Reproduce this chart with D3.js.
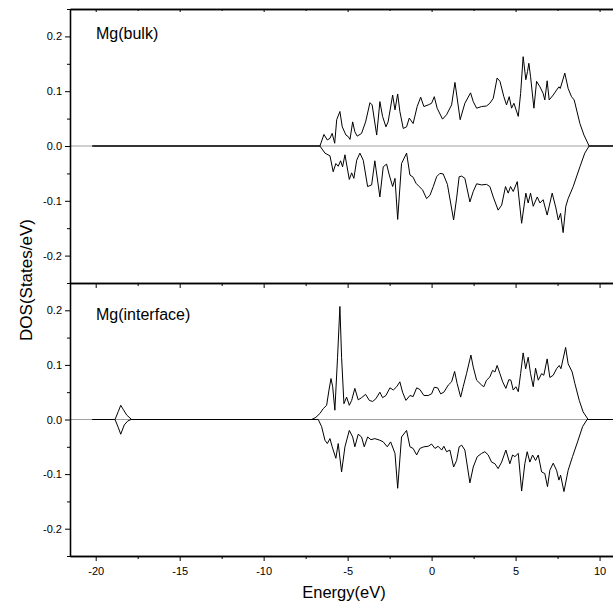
<!DOCTYPE html>
<html>
<head>
<meta charset="utf-8">
<script src="https://cdn.jsdelivr.net/npm/d3@7"></script>
<style>
  body { margin: 0; background: #fff; }
  text { font-family: 'Liberation Sans', Arial, sans-serif; fill: #000; }
</style>
</head>
<body>
<script>
// DOS data, [energy (eV), states/eV]; spin-down drawn as negative
const bulkUp = [[-20.2,0],[-6.65,0],[-6.41,0.021],[-6.21,0.011],[-6.05,0.014],[-5.92,0.023],[-5.77,0.005],[-5.65,0.048],[-5.46,0.063],[-5.32,0.035],[-5.10,0.020],[-4.96,0.017],[-4.86,0.012],[-4.70,0.044],[-4.57,0.026],[-4.43,0.018],[-4.17,0.023],[-3.93,0.044],[-3.67,0.079],[-3.54,0.075],[-3.27,0.020],[-3.08,0.081],[-2.92,0.054],[-2.72,0.035],[-2.59,0.044],[-2.32,0.093],[-2.18,0.066],[-2.02,0.095],[-1.89,0.063],[-1.69,0.032],[-1.49,0.035],[-1.33,0.051],[-1.10,0.041],[-0.86,0.072],[-0.65,0.089],[-0.46,0.072],[-0.20,0.075],[0.0,0.078],[0.16,0.090],[0.33,0.069],[0.65,0.049],[0.89,0.057],[1.19,0.075],[1.39,0.116],[1.70,0.048],[1.98,0.078],[2.32,0.097],[2.48,0.081],[2.68,0.069],[2.98,0.072],[3.27,0.073],[3.47,0.078],[3.67,0.087],[3.90,0.124],[4.07,0.118],[4.30,0.090],[4.46,0.075],[4.62,0.090],[4.76,0.069],[4.90,0.078],[5.16,0.054],[5.30,0.096],[5.45,0.163],[5.61,0.121],[5.71,0.136],[5.79,0.151],[5.89,0.127],[6.09,0.069],[6.25,0.118],[6.45,0.108],[6.64,0.096],[6.74,0.084],[6.88,0.119],[7.00,0.084],[7.24,0.093],[7.44,0.102],[7.58,0.108],[7.66,0.105],[7.93,0.133],[8.13,0.105],[8.33,0.090],[8.49,0.084],[8.83,0.041],[9.07,0.020],[9.38,0],[11,0]];

const bulkDown = [[-20.2,0],[-6.65,0],[-6.35,-0.013],[-6.05,-0.018],[-5.86,-0.047],[-5.70,-0.032],[-5.56,-0.037],[-5.42,-0.027],[-5.30,-0.038],[-5.16,-0.016],[-4.90,-0.061],[-4.76,-0.049],[-4.63,-0.059],[-4.46,-0.026],[-4.27,-0.013],[-4.07,-0.026],[-3.81,-0.074],[-3.57,-0.071],[-3.38,-0.027],[-3.08,-0.093],[-2.88,-0.038],[-2.68,-0.033],[-2.52,-0.053],[-2.32,-0.074],[-2.18,-0.059],[-2.02,-0.134],[-1.79,-0.032],[-1.49,-0.013],[-1.29,-0.053],[-1.10,-0.057],[-0.93,-0.068],[-0.74,-0.074],[-0.54,-0.080],[-0.30,-0.096],[-0.10,-0.090],[0.10,-0.074],[0.30,-0.056],[0.49,-0.050],[0.69,-0.051],[0.94,-0.070],[1.31,-0.135],[1.49,-0.095],[1.64,-0.056],[1.79,-0.055],[1.98,-0.059],[2.28,-0.102],[2.48,-0.083],[2.68,-0.069],[2.98,-0.071],[3.27,-0.070],[3.47,-0.074],[3.67,-0.093],[3.96,-0.117],[4.17,-0.108],[4.40,-0.074],[4.56,-0.086],[4.70,-0.074],[4.86,-0.083],[5.10,-0.065],[5.36,-0.141],[5.61,-0.086],[5.75,-0.104],[5.89,-0.086],[6.05,-0.110],[6.29,-0.093],[6.45,-0.104],[6.64,-0.098],[6.88,-0.126],[7.18,-0.086],[7.40,-0.113],[7.54,-0.135],[7.68,-0.123],[7.83,-0.158],[7.99,-0.110],[8.13,-0.096],[8.43,-0.074],[8.83,-0.038],[9.12,-0.013],[9.38,0],[11,0]];

const ifaceUp = [[-20.2,0],[-18.85,0],[-18.65,0.015],[-18.51,0.026],[-18.35,0.018],[-18.15,0.008],[-17.86,0],[-7.14,0],[-6.89,0.004],[-6.65,0.011],[-6.45,0.020],[-6.25,0.026],[-6.11,0.054],[-5.99,0.075],[-5.89,0.060],[-5.76,0.017],[-5.60,0.114],[-5.46,0.207],[-5.36,0.114],[-5.22,0.029],[-5.06,0.041],[-4.90,0.026],[-4.76,0.035],[-4.57,0.057],[-4.37,0.036],[-4.17,0.040],[-3.93,0.046],[-3.71,0.035],[-3.51,0.033],[-3.32,0.038],[-3.08,0.050],[-2.92,0.040],[-2.72,0.044],[-2.48,0.058],[-2.28,0.054],[-2.08,0.060],[-1.89,0.069],[-1.73,0.050],[-1.53,0.035],[-1.29,0.044],[-1.10,0.042],[-0.89,0.058],[-0.70,0.055],[-0.46,0.044],[-0.20,0.044],[0.0,0.047],[0.16,0.059],[0.36,0.058],[0.54,0.047],[0.73,0.050],[0.99,0.063],[1.19,0.069],[1.37,0.088],[1.52,0.066],[1.73,0.041],[1.88,0.060],[2.08,0.084],[2.34,0.118],[2.48,0.096],[2.68,0.072],[2.98,0.063],[3.11,0.060],[3.27,0.072],[3.47,0.078],[3.63,0.090],[3.77,0.087],[3.90,0.099],[4.07,0.084],[4.23,0.069],[4.42,0.057],[4.60,0.073],[4.72,0.072],[4.86,0.054],[5.02,0.060],[5.16,0.051],[5.30,0.084],[5.45,0.122],[5.60,0.093],[5.75,0.114],[5.89,0.084],[6.05,0.060],[6.19,0.094],[6.35,0.072],[6.55,0.084],[6.68,0.081],[6.88,0.111],[7.04,0.077],[7.24,0.081],[7.44,0.093],[7.60,0.099],[7.70,0.093],[7.98,0.132],[8.13,0.102],[8.37,0.087],[8.53,0.066],[8.79,0.035],[9.02,0.014],[9.32,0],[11,0]];

const ifaceDown = [[-20.2,0],[-18.85,0],[-18.65,-0.015],[-18.51,-0.027],[-18.3,-0.010],[-18.1,-0.003],[-17.9,0],[-6.75,0],[-6.55,-0.013],[-6.35,-0.038],[-6.21,-0.044],[-6.05,-0.035],[-5.92,-0.050],[-5.70,-0.071],[-5.56,-0.044],[-5.36,-0.096],[-5.16,-0.050],[-4.90,-0.020],[-4.70,-0.032],[-4.57,-0.050],[-4.37,-0.027],[-4.17,-0.032],[-4.01,-0.050],[-3.81,-0.032],[-3.61,-0.037],[-3.38,-0.035],[-3.08,-0.038],[-2.88,-0.041],[-2.64,-0.050],[-2.44,-0.041],[-2.18,-0.062],[-2.02,-0.126],[-1.79,-0.032],[-1.49,-0.020],[-1.29,-0.050],[-1.10,-0.053],[-0.89,-0.065],[-0.70,-0.053],[-0.46,-0.050],[-0.20,-0.049],[0.0,-0.045],[0.20,-0.053],[0.39,-0.049],[0.60,-0.056],[0.73,-0.049],[0.89,-0.059],[1.09,-0.056],[1.31,-0.087],[1.49,-0.075],[1.64,-0.050],[1.79,-0.047],[1.98,-0.056],[2.28,-0.116],[2.48,-0.087],[2.72,-0.068],[2.98,-0.062],[3.17,-0.059],[3.37,-0.065],[3.57,-0.078],[3.77,-0.081],[3.96,-0.090],[4.17,-0.078],[4.42,-0.056],[4.66,-0.081],[4.82,-0.065],[4.96,-0.068],[5.16,-0.062],[5.36,-0.131],[5.55,-0.081],[5.69,-0.059],[5.85,-0.078],[6.01,-0.065],[6.19,-0.075],[6.35,-0.065],[6.55,-0.096],[6.74,-0.099],[6.90,-0.123],[7.04,-0.093],[7.24,-0.080],[7.44,-0.093],[7.58,-0.111],[7.68,-0.102],[7.88,-0.132],[8.13,-0.093],[8.39,-0.068],[8.69,-0.041],[8.99,-0.013],[9.26,0],[11,0]];

const xMajor = [-20, -15, -10, -5, 0, 5, 10];
const xMinor = [-17.5, -12.5, -7.5, -2.5, 2.5, 7.5];
const yMajor = [-0.2, -0.1, 0, 0.1, 0.2];
const yMinor = [-0.25, -0.15, -0.05, 0.05, 0.15, 0.25];
const panelLabels = ['Mg(bulk)', 'Mg(interface)'];

const width = 613, height = 611;
const plot_left = 70, plot_top = 9, plot_split = 283, plot_bottom = 556;

const svg = d3.select('body').append('svg')
    .attr('width', width)
    .attr('height', height);

const x = d3.scaleLinear().domain([-21.53, 10.8]).range([plot_left, width]);
const yTop = d3.scaleLinear().domain([-0.25, 0.25]).range([plot_split, plot_top]);
const yBot = d3.scaleLinear().domain([-0.25, 0.25]).range([plot_bottom, plot_split]);

function styleAxis(g, w) {
    g.select('.domain').attr('stroke', '#000').attr('stroke-width', w);
    g.selectAll('.tick line').attr('stroke', '#000').attr('stroke-width', 1);
    g.selectAll('.tick text').style('font-size', '11px')
        .style('font-family', "'Liberation Sans', Arial, sans-serif");
}

function drawPanel(y, up, down, label, labelY) {
    const g = svg.append('g');

    // zero reference line
    g.append('line')
        .attr('x1', plot_left).attr('x2', width)
        .attr('y1', y(0)).attr('y2', y(0))
        .attr('stroke', '#888')
        .attr('stroke-width', 0.8);

    const line = d3.line()
        .x(d => x(d[0]))
        .y(d => y(d[1]));

    [up, down].forEach(s => {
        g.append('path')
            .datum(s)
            .attr('d', line)
            .attr('fill', 'none')
            .attr('stroke', '#000')
            .attr('stroke-width', 1);
    });

    g.append('g')
        .attr('transform', 'translate(' + plot_left + ',0)')
        .call(d3.axisLeft(y).tickValues(yMinor).tickSize(3).tickFormat('').tickSizeOuter(0))
        .call(a => styleAxis(a, 1.3));

    g.append('g')
        .attr('transform', 'translate(' + plot_left + ',0)')
        .call(d3.axisLeft(y).tickValues(yMajor).tickSize(5).tickPadding(3)
            .tickFormat(d => d.toFixed(1)).tickSizeOuter(0))
        .call(a => styleAxis(a, 1.3));

    g.append('text')
        .attr('x', 96)
        .attr('y', labelY)
        .style('font-size', '16px')
        .text(label);
}

drawPanel(yTop, bulkUp, bulkDown, panelLabels[0], 38.5);
drawPanel(yBot, ifaceUp, ifaceDown, panelLabels[1], 320);

// horizontal frame lines with ticks
function xAxisAt(yPos, major, minor, labels) {
    const g = svg.append('g').attr('transform', 'translate(0,' + yPos + ')');
    g.append('g')
        .call(d3.axisBottom(x).tickValues(xMinor).tickSize(minor).tickFormat('').tickSizeOuter(0))
        .call(a => styleAxis(a, 1.3));
    g.append('g')
        .call(d3.axisBottom(x).tickValues(xMajor).tickSize(major).tickPadding(6)
            .tickFormat(labels ? d => String(d) : '').tickSizeOuter(0))
        .call(a => styleAxis(a, 1.3));
}

xAxisAt(plot_top, 3, 2, false);
xAxisAt(plot_split, 5, 3, false);
xAxisAt(plot_bottom, 5, 3, true);

svg.append('text')
    .attr('x', 344)
    .attr('y', 598)
    .attr('text-anchor', 'middle')
    .style('font-size', '16.5px')
    .text('Energy(eV)');

svg.append('text')
    .attr('transform', 'translate(31.5,280) rotate(-90)')
    .attr('text-anchor', 'middle')
    .style('font-size', '17px')
    .text('DOS(States/eV)');
</script>
</body>
</html>
